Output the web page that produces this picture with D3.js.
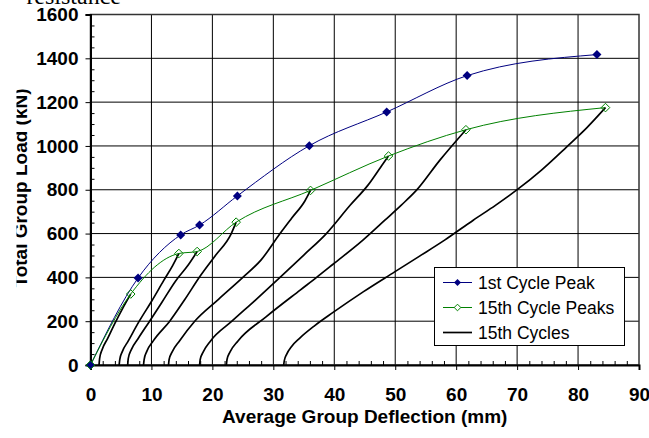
<!DOCTYPE html>
<html><head><meta charset="utf-8">
<script src="https://cdn.jsdelivr.net/npm/d3@7"></script>
<style>body{margin:0;background:#fff;overflow:hidden}</style>
</head><body>
<svg id="chart" width="649" height="438"></svg>
<script>
// ---- data ----
const xTickValues = [0,10,20,30,40,50,60,70,80,90];
const yTickValues = [0,200,400,600,800,1000,1200,1400,1600];
const seriesNames = ["1st Cycle Peak","15th Cycle Peaks","15th Cycles"];

const peak1Defl = [0, 7.8, 14.8, 17.9, 24.1, 35.9, 48.6, 61.8, 83.1];
const peak1Load = [0, 397, 594, 639, 772, 1001, 1155, 1321, 1417];

const peak15Defl = [0, 6.6, 14.5, 17.5, 23.9, 36.1, 48.9, 61.6, 84.5];
const peak15Load = [0, 324, 509, 518, 652, 797, 954, 1074, 1175];

const cycle1 = [[1.4,0],[1.5,30],[1.9,70],[2.8,120],[4.0,190],[5.3,260],[6.6,324]];
const cycle2 = [[4.7,0],[4.8,25],[5.2,60],[6.2,110],[8.0,200],[10.0,290],[12.0,385],[13.5,455],[14.5,509]];
const cycle3 = [[6.1,0],[6.2,30],[6.7,70],[7.8,120],[9.7,200],[11.8,290],[14.0,385],[16.0,455],[17.5,518]];
const cycle4 = [[8.7,0],[8.8,25],[9.2,60],[10.3,110],[13.0,200],[15.5,300],[18.0,406],[20.5,500],[23.1,600],[23.9,652]];
const cycle5 = [[12.8,0],[12.9,25],[13.4,60],[14.6,110],[17.1,200],[21.0,300],[25.0,400],[28.0,480],[31.1,600],[33.0,670],[35.2,750],[36.1,797]];
const cycle6 = [[17.9,0],[18.0,25],[18.5,60],[19.7,110],[23.2,200],[27.2,300],[31.1,400],[35.0,502],[38.7,600],[42.6,729],[45.5,820],[48.0,919],[48.9,954]];
const cycle7 = [[22.3,0],[22.4,25],[22.9,60],[24.2,110],[28.8,220],[34.4,342],[37.1,400],[39.8,460],[44.7,570],[48.3,661],[51.0,730],[53.5,798],[57.3,934],[61.6,1074]];
const cycle8 = [[31.7,0],[31.8,20],[32.2,50],[33.0,85],[34.3,122],[36.8,180],[39.8,240],[44.8,335],[49.9,425],[54.0,497],[58.1,570],[62.8,661],[66.5,730],[69.9,798],[74.0,890],[78.1,995],[81.5,1085],[84.5,1175]];
const cycles = [cycle1,cycle2,cycle3,cycle4,cycle5,cycle6,cycle7,cycle8];

(function(){
const svg = d3.select("#chart");
const pL = 90.5, pR = 639, pT = 14.5, pB = 365;
const x = d3.scaleLinear().domain([0,90]).range([pL,pR]);
const y = d3.scaleLinear().domain([0,1600]).range([pB,pT]);
const boldFont = "'Liberation Sans', Arial, sans-serif";
const fs = 19;

svg.append("text").attr("x",121).attr("y",4).attr("text-anchor","end")
  .attr("font-family","'Liberation Serif', 'Times New Roman', serif").attr("font-size",24)
  .text("resistance");

const grid = svg.append("g");
grid.selectAll("line.v").data(xTickValues.slice(1,-1)).join("line").attr("class","v")
  .attr("x1",d=>x(d)).attr("x2",d=>x(d)).attr("y1",pT).attr("y2",pB)
  .attr("stroke","#000").attr("stroke-width",1);
grid.selectAll("line.h").data(yTickValues.slice(1,-1)).join("line").attr("class","h")
  .attr("y1",d=>y(d)).attr("y2",d=>y(d)).attr("x1",pL).attr("x2",pR)
  .attr("stroke","#000").attr("stroke-width",1);
svg.append("rect").attr("x",pL).attr("y",pT).attr("width",pR-pL).attr("height",pB-pT)
  .attr("fill","none").attr("stroke","#333").attr("stroke-width",1.5);

const yAxis = d3.axisLeft(y).tickValues(yTickValues).tickSize(5).tickPadding(7).tickFormat(d3.format("d"));
const gy = svg.append("g").attr("transform",`translate(${pL},0)`).call(yAxis);
gy.select(".domain").attr("stroke","#000").attr("stroke-width",2);
gy.selectAll("text").attr("font-family",boldFont).attr("font-weight","bold").attr("font-size",fs).attr("fill","#000");
const yMinor = d3.axisRight(y).tickValues(d3.range(0,1601,50).filter(v=>v%200)).tickSize(4).tickFormat("");
const gym = svg.append("g").attr("transform",`translate(${pL},0)`).call(yMinor);
gym.select(".domain").remove();

const xAxis = d3.axisBottom(x).tickValues(xTickValues).tickSize(5).tickPadding(18).tickFormat(d3.format("d"));
const gx = svg.append("g").attr("transform",`translate(0,${pB})`).call(xAxis);
gx.select(".domain").attr("stroke","#000").attr("stroke-width",2);
gx.selectAll("text").attr("font-family",boldFont).attr("font-weight","bold").attr("font-size",fs).attr("fill","#000");
const xMinor = d3.axisTop(x).tickValues(d3.range(0,91,2).filter(v=>v%10)).tickSize(4).tickFormat("");
const gxm = svg.append("g").attr("transform",`translate(0,${pB})`).call(xMinor);
gxm.select(".domain").remove();

svg.append("text").attr("x",(pL+pR)/2).attr("y",423).attr("text-anchor","middle")
  .attr("font-family",boldFont).attr("font-weight","bold").attr("font-size",fs)
  .text("Average Group Deflection (mm)");
svg.append("clipPath").attr("id","ytclip").append("rect").attr("x",16.5).attr("y",0).attr("width",40).attr("height",438);
svg.append("g").attr("clip-path","url(#ytclip)").append("text")
  .attr("transform","translate(27,188) rotate(-90)").attr("text-anchor","middle")
  .attr("font-family",boldFont).attr("font-weight","bold").attr("font-size",fs)
  .text("Total Group Load (kN)");

svg.append("clipPath").attr("id","plotclip").append("rect")
  .attr("x",pL-6).attr("y",pT-6).attr("width",pR-pL+12).attr("height",pB-pT+12);
const plot = svg.append("g").attr("clip-path","url(#plotclip)");

const cycLine = d3.line().x(d=>x(d[0])).y(d=>y(d[1])).curve(d3.curveMonotoneX);
plot.selectAll("path.cyc").data(cycles).join("path").attr("class","cyc")
  .attr("d",cycLine).attr("fill","none").attr("stroke","#000").attr("stroke-width",1.7);

const p1 = peak1Defl.map((d,i)=>[d,peak1Load[i]]);
const p15 = peak15Defl.map((d,i)=>[d,peak15Load[i]]);
const smooth = d3.line().x(d=>x(d[0])).y(d=>y(d[1])).curve(d3.curveMonotoneX);
plot.append("path").attr("d",smooth(p1)).attr("fill","none").attr("stroke","#000080").attr("stroke-width",1);
plot.append("path").attr("d",smooth(p15)).attr("fill","none").attr("stroke","#008000").attr("stroke-width",1);

const diamond = s => `M0,${-s}L${s},0L0,${s}L${-s},0Z`;
plot.selectAll("path.m1").data(p1).join("path").attr("class","m1")
  .attr("transform",d=>`translate(${x(d[0])},${y(d[1])})`).attr("d",diamond(4.5)).attr("fill","#000080");
plot.selectAll("path.m15").data(p15).join("path").attr("class","m15")
  .attr("transform",d=>`translate(${x(d[0])},${y(d[1])})`).attr("d",diamond(4.3))
  .attr("fill","none").attr("stroke","#008000").attr("stroke-width",1);

const lg = svg.append("g");
lg.append("rect").attr("x",434.5).attr("y",267.5).attr("width",190).attr("height",78)
  .attr("fill","#fff").attr("stroke","#000").attr("stroke-width",1);
const rows = [282.5, 307.5, 332.5];
const lColors = ["#000080","#008000","#000"];
rows.forEach((ry,i)=>{
  lg.append("line").attr("x1",443).attr("x2",472).attr("y1",ry).attr("y2",ry)
    .attr("stroke",lColors[i]).attr("stroke-width",i===2?1.7:1);
  if(i===0) lg.append("path").attr("transform",`translate(457.5,${ry})`).attr("d",diamond(3.5)).attr("fill","#000080");
  if(i===1) lg.append("path").attr("transform",`translate(457.5,${ry})`).attr("d",diamond(3.3)).attr("fill","#fff").attr("stroke","#008000");
  lg.append("text").attr("x",478).attr("y",ry+6.3).attr("font-family",boldFont).attr("font-size",17.5)
    .text(seriesNames[i]);
});
})();
</script>
</body></html>
